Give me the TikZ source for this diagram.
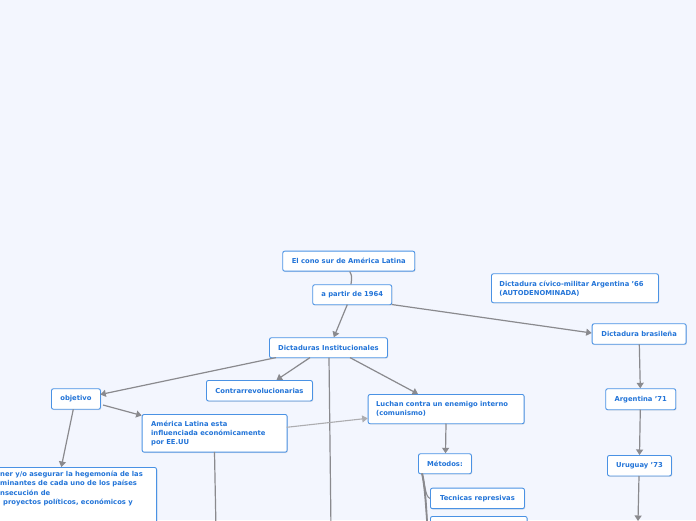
\documentclass[tikz,border=0pt]{standalone}
\usepackage{fontspec}
\setmainfont{DejaVu Sans}
\usetikzlibrary{arrows.meta,shadows}
\definecolor{bgc}{RGB}{243,246,254}
\definecolor{txtblue}{RGB}{34,116,216}
\definecolor{brd}{RGB}{74,146,228}
\definecolor{lnc}{RGB}{138,138,142}
\begin{document}
\begin{tikzpicture}[x=1pt,y=-1pt,
  box/.style={draw=brd,fill=white,rounded corners=2pt,line width=0.9pt,
    text=txtblue,font=\bfseries\fontsize{6.8}{9}\selectfont,inner sep=0pt,
    anchor=north west,
    drop shadow={opacity=0.18,shadow xshift=0.8pt,shadow yshift=-0.9pt}},
  mbox/.style={box,align=left},
  conn/.style={draw=lnc,line width=1.2pt},
  arr/.style={conn,-{Triangle[length=5.5pt,width=7pt]}},
  ltarr/.style={draw=lnc!70,line width=1.1pt,-{Triangle[length=5.5pt,width=7pt]}}
]
\fill[bgc] (0,0) rectangle (696,520);
\clip (0,0) rectangle (696,520);

% nodes
\node[box,minimum width=132pt,minimum height=20pt] (cono) at (282.3,250.7) {El cono sur de América Latina};
\node[box,minimum width=79pt,minimum height=20pt] (partir) at (312.3,284.3) {a partir de 1964};
\node[mbox,text width=151pt,inner xsep=8pt,minimum height=29pt] (civico) at (491,273.3) {Dictadura cívico-militar Argentina '66\\(AUTODENOMINADA)};
\node[box,minimum width=94pt,minimum height=20.5pt] (bras) at (591.7,323.3) {Dictadura brasileña};
\node[box,minimum width=118pt,minimum height=20pt] (inst) at (269,337.3) {Dictaduras Institucionales};
\node[box,minimum width=106pt,minimum height=20.5pt] (contra) at (206,380) {Contrarrevolucionarias};
\node[mbox,text width=140pt,inner xsep=8pt,minimum height=29.3pt] (luchan) at (367.7,394) {Luchan contra un enemigo interno\\(comunismo)};
\node[box,minimum width=49pt,minimum height=20.5pt] (obj) at (51,388.3) {objetivo};
\node[mbox,text width=127pt,inner xsep=9pt,minimum height=37.7pt] (amer) at (141.7,414) {América Latina esta\\influenciada económicamente\\por EE.UU};
\node[box,minimum width=53pt,minimum height=20pt] (metodos) at (418,453.3) {Métodos:};
\node[box,minimum width=94pt,minimum height=20.5pt] (tecnicas) at (430,487.7) {Tecnicas represivas};
\node[box,minimum width=96.7pt,minimum height=22pt] (otro) at (430,516) {};
\node[box,minimum width=70pt,minimum height=21pt] (arg) at (605.3,388.3) {Argentina '71};
\node[box,minimum width=64pt,minimum height=20.5pt] (uru) at (607,455) {Uruguay '73};
\node[box,minimum width=200pt,minimum height=80pt,anchor=north east] (hegem) at (157,467) {};
\node[text=txtblue,font=\bfseries\fontsize{6.8}{9.3}\selectfont,align=left,inner sep=0pt,anchor=north west] (hegemtxt) at (0,471)
  {ner y/o asegurar la hegemonía de las\\minantes de cada uno de los países\\nsecución de\\\hspace{3pt}proyectos políticos, económicos y};

% hidden ends below the picture
\coordinate (instend) at (331,530);
\coordinate (amerend) at (216,530);
\coordinate (uruend) at (638,521);

% connectors
\draw[conn] (cono.south) ++(1,0) .. controls (352,276) .. (partir.north -| 351,0);
\draw[arr] (347.3,304.6) -- (333.8,337.3);
\draw[arr] (391.7,304.5) -- (591.7,333);
\draw[arr] (639.3,344.3) -- (640.3,388.3);
\draw[arr] (640.3,409.5) -- (639.5,455);
\draw[arr] (639,476) -- (uruend);
\draw[arr] (276,357.6) -- (100.3,394.5);
\draw[arr] (310,357.6) -- (276.5,380);
\draw[arr] (350,357.6) -- (418,394);
\draw[conn] (329,357.6) -- (instend);
\draw[arr] (103,405) -- (141.7,415.5);
\draw[arr] (73.3,409.3) -- (61.3,467);
\draw[ltarr] (286.7,427.3) -- (367.7,418.3);
\draw[conn] (214.5,451.9) -- (amerend);
\draw[arr] (446,423.5) -- (445.5,453.3);
% metodos branches
\draw[conn,line width=1pt] (421.8,473.4) .. controls (425,482) and (425,497) .. (tecnicas.west);
\draw[conn,line width=1.4pt] (421.8,473.4) .. controls (425,488) and (426,510) .. (427.5,530);
\draw[conn,line width=1.4pt] (422.4,473.4) .. controls (425.6,488) and (426.6,510) .. (428.2,540);
\end{tikzpicture}
\end{document}
